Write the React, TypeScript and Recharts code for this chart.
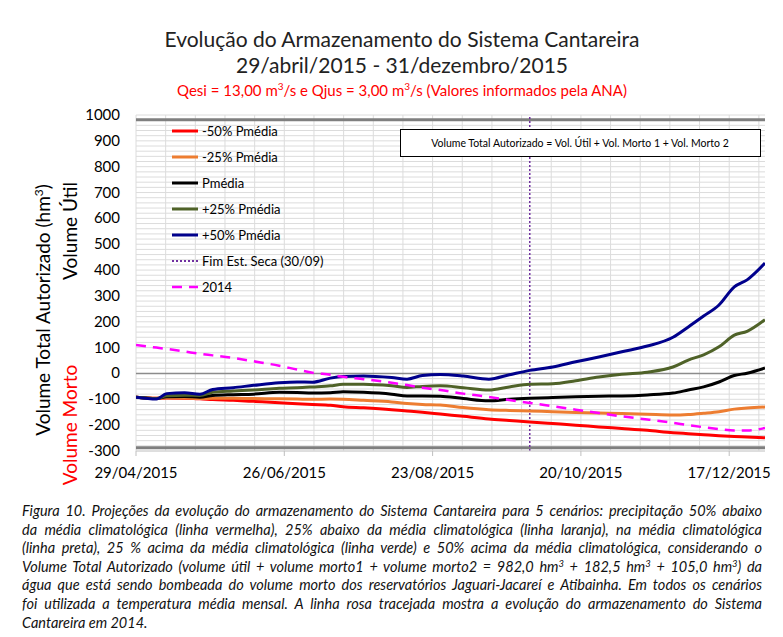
import React from "react";
import { LineChart, Line, XAxis, YAxis, CartesianGrid, ReferenceLine, Legend } from "recharts";

// day index counted from 29/04/2015
const days = [0, 8, 12, 19, 25, 30, 38, 46, 56, 63, 69, 76, 81, 89, 100, 106, 112, 119, 128, 138, 146, 154, 163, 172, 181, 190, 200, 210, 216, 222, 228, 234, 239, 246];

const pMinus50 = [-92, -96, -95, -96, -98, -101, -104, -108, -113, -117, -120, -123, -129, -133, -140, -145, -150, -157, -166, -176, -182, -188, -194, -200, -207, -213, -220, -229, -233, -237, -241, -244, -246, -249];
const pMinus25 = [-92, -96, -94, -95, -97, -96, -96, -97, -98, -99, -100, -99, -100, -104, -110, -116, -120, -122, -132, -140, -143, -145, -148, -151, -153, -155, -158, -161, -159, -154, -148, -138, -134, -130];
const pMedia = [-92, -97, -90, -89, -92, -85, -82, -80, -73, -74, -76, -75, -71, -73, -80, -87, -87, -88, -97, -106, -100, -96, -93, -90, -88, -87, -83, -76, -64, -52, -33, -8, 1, 21];
const pPlus25 = [-92, -97, -86, -84, -85, -73, -68, -64, -57, -55, -52, -48, -42, -42, -48, -54, -50, -48, -55, -64, -52, -42, -40, -28, -14, -3, 5, 25, 52, 72, 103, 148, 163, 208];
const pPlus50 = [-92, -99, -78, -75, -80, -62, -55, -46, -36, -33, -34, -18, -12, -10, -16, -22, -8, -4, -10, -22, -5, 12, 25, 45, 64, 84, 106, 140, 180, 222, 265, 335, 362, 427];
const year2014 = [110, 100, 95, 85, 76, 70, 60, 47, 30, 15, 3, -5, -13, -22, -36, -45, -55, -64, -78, -91, -103, -114, -127, -140, -153, -166, -178, -191, -200, -208, -215, -221, -221, -211];

const xTickDays = [0, 58, 116, 174, 232];
const xTickLabels = ["29/04/2015", "26/06/2015", "23/08/2015", "20/10/2015", "17/12/2015"];
const yTicks = [-300, -200, -100, 0, 100, 200, 300, 400, 500, 600, 700, 800, 900, 1000];
const dryEndDay = 154;
const volumeTop = 982;
const volumeBottom = -287.5;
const lastDay = 246;

const data = days.map((d, i) => ({
  day: d,
  m50: pMinus50[i],
  m25: pMinus25[i],
  med: pMedia[i],
  p25: pPlus25[i],
  p50: pPlus50[i],
  y2014: year2014[i],
}));

const series = [
  { key: "m50", name: "-50% Pmédia", color: "#FF0000", dash: undefined as string | undefined, width: 3 },
  { key: "m25", name: "-25% Pmédia", color: "#ED7D31", dash: undefined, width: 3 },
  { key: "med", name: "Pmédia", color: "#000000", dash: undefined, width: 3 },
  { key: "p25", name: "+25% Pmédia", color: "#4F6228", dash: undefined, width: 3 },
  { key: "p50", name: "+50% Pmédia", color: "#00008C", dash: undefined, width: 3 },
  { key: "y2014", name: "2014", color: "#FF00FF", dash: "10 7", width: 2.5 },
];

const hGrid = Array.from({ length: 66 }, (_, i) => -300 + i * 20);
const vGrid = Array.from({ length: 22 }, (_, i) => i * 11.6);

const FONT = "Lato, 'Open Sans', sans-serif";

const XTick = (props: any) => {
  const { x, y, payload } = props;
  const idx = xTickDays.indexOf(payload.value);
  return (
    <g>
      <line x1={x} x2={x} y1={y} y2={y + 5} stroke="#BFBFBF" strokeWidth={1} />
      <text x={x} y={y + 27} textAnchor="middle" fontSize={15} fontFamily={FONT} fill="#000">
        {idx >= 0 ? xTickLabels[idx] : ""}
      </text>
    </g>
  );
};

const YTick = (props: any) => {
  const { x, y, payload } = props;
  return (
    <text x={x} y={y} dy={5} textAnchor="end" fontSize={15} fontFamily={FONT} fill="#000">
      {payload.value}
    </text>
  );
};

const LegendContent = (props: any) => {
  const payload = props.payload || [];
  const items: any[] = [];
  series.forEach((s) => {
    const p = payload.find((q: any) => q.dataKey === s.key);
    if (!p) return;
    if (s.key === "y2014") {
      items.push({ name: "Fim Est. Seca (30/09)", color: "#7030A0", dash: "2 2", width: 2 });
    }
    items.push({ name: p.value, color: p.color, dash: s.dash, width: s.width });
  });
  return (
    <div style={{ fontFamily: FONT, fontSize: 13, color: "#000" }}>
      {items.map((it, i) => (
        <div key={i} style={{ height: 26, display: "flex", alignItems: "center" }}>
          <svg width={28} height={10} style={{ display: "block" }}>
            <line x1={0} x2={26} y1={5} y2={5} stroke={it.color} strokeWidth={it.width} strokeDasharray={it.dash} />
          </svg>
          <span style={{ marginLeft: 2, whiteSpace: "nowrap" }}>{it.name}</span>
        </div>
      ))}
    </div>
  );
};

const captionLines = [
  "Figura 10. Projeções da evolução do armazenamento do Sistema Cantareira para 5 cenários: precipitação 50% abaixo",
  "da média climatológica (linha vermelha), 25% abaixo da média climatológica (linha laranja), na média climatológica",
  "(linha preta), 25 % acima da média climatológica  (linha verde) e 50% acima da média climatológica, considerando o",
  "VOLUME",
  "água que está sendo bombeada do volume morto dos reservatórios Jaguari-Jacareí e Atibainha. Em todos os cenários",
  "foi utilizada a temperatura média mensal. A linha rosa tracejada mostra a evolução do armazenamento do Sistema",
  "Cantareira em 2014.",
];

const Sup = ({ children }: any) => (
  <span style={{ fontSize: "0.65em", verticalAlign: "0.55em", lineHeight: 0 }}>{children}</span>
);

export default function App() {
  return (
    <div style={{ position: "relative", width: 783, height: 637, background: "#fff", overflow: "hidden" }}>
      <style>{`body{margin:0;}`}</style>
      <div style={{ position: "absolute", left: 0, top: 0 }}>
        <LineChart width={783} height={500} data={data} margin={{ top: 115, right: 18, bottom: 19, left: 76 }}>
          <CartesianGrid stroke="#DCDCDC" strokeWidth={1} horizontalValues={hGrid} verticalValues={vGrid} />
          <XAxis
            type="number"
            dataKey="day"
            domain={[0, lastDay]}
            ticks={xTickDays}
            interval={0}
            height={30}
            tickSize={0}
            tickMargin={0}
            tickLine={false}
            axisLine={{ stroke: "#D0D0D0" }}
            tick={<XTick />}
            allowDataOverflow
          />
          <YAxis
            type="number"
            domain={[-300, 1000]}
            ticks={yTicks}
            interval={0}
            width={60}
            tickSize={0}
            tickMargin={16}
            tickLine={false}
            axisLine={false}
            tick={<YTick />}
            allowDataOverflow
          />
          <ReferenceLine y={0} stroke="#8C8C8C" strokeWidth={1.5} />
          <ReferenceLine y={volumeTop} stroke="#7F7F7F" strokeWidth={3} />
          <ReferenceLine y={volumeBottom} stroke="#7F7F7F" strokeWidth={3} />
          <ReferenceLine x={dryEndDay} stroke="#7030A0" strokeWidth={1.5} strokeDasharray="2 2" />
          {series.map((s) => (
            <Line
              key={s.key}
              type="monotone"
              dataKey={s.key}
              name={s.name}
              stroke={s.color}
              strokeWidth={s.width}
              strokeDasharray={s.dash}
              dot={false}
              activeDot={false}
              isAnimationActive={false}
            />
          ))}
          <Legend
            layout="vertical"
            align="center"
            verticalAlign="middle"
            content={<LegendContent />}
            wrapperStyle={{ left: 172, top: 118, width: 220, height: 182 }}
          />
        </LineChart>
      </div>

      <svg width={783} height={637} style={{ position: "absolute", left: 0, top: 0, pointerEvents: "none" }} fontFamily={FONT}>
        <text x={402} y={47} textAnchor="middle" fontSize={21} fill="#222">Evolução do Armazenamento do Sistema Cantareira</text>
        <text x={402} y={73} textAnchor="middle" fontSize={21} fill="#222">29/abril/2015 - 31/dezembro/2015</text>
        <text x={402} y={96} textAnchor="middle" fontSize={15} fill="#FF0000">
          Qesi = 13,00 m<tspan dy={-6} fontSize={10}>3</tspan><tspan dy={6}>/s e Qjus = 3,00 m</tspan><tspan dy={-6} fontSize={10}>3</tspan><tspan dy={6}>/s (Valores informados pela ANA)</tspan>
        </text>
        <text transform="translate(50,310) rotate(-90)" textAnchor="middle" fontSize={19} fill="#000">
          Volume Total Autorizado (hm<tspan dy={-7} fontSize={12}>3</tspan><tspan dy={7}>)</tspan>
        </text>
        <text transform="translate(77,231) rotate(-90)" textAnchor="middle" fontSize={19} fill="#000">Volume Útil</text>
        <text transform="translate(77,425) rotate(-90)" textAnchor="middle" fontSize={19} fill="#FF0000">Volume Morto</text>
        <rect x={400.5} y={129.5} width={360} height={27} fill="#fff" stroke="#000" strokeWidth={1} />
        <text x={580} y={146.5} textAnchor="middle" fontSize={10.5} fill="#000">Volume Total Autorizado = Vol. Útil + Vol. Morto 1 + Vol. Morto 2</text>
      </svg>

      <div style={{ position: "absolute", left: 22, top: 502, width: 740, fontFamily: FONT, fontStyle: "italic", fontSize: 14.5, color: "#111" }}>
        {captionLines.map((ln, i) => (
          <div
            key={i}
            style={{
              height: 18.6,
              lineHeight: "18.6px",
              whiteSpace: "nowrap",
              textAlign: "justify",
              textAlignLast: i === captionLines.length - 1 ? "left" : "justify",
            }}
          >
            {ln === "VOLUME" ? (
              <span>
                Volume Total Autorizado (volume útil + volume morto1 + volume morto2 = 982,0 hm<Sup>3</Sup> + 182,5 hm<Sup>3</Sup> + 105,0 hm<Sup>3</Sup>) da
              </span>
            ) : (
              ln
            )}
          </div>
        ))}
      </div>
    </div>
  );
}
